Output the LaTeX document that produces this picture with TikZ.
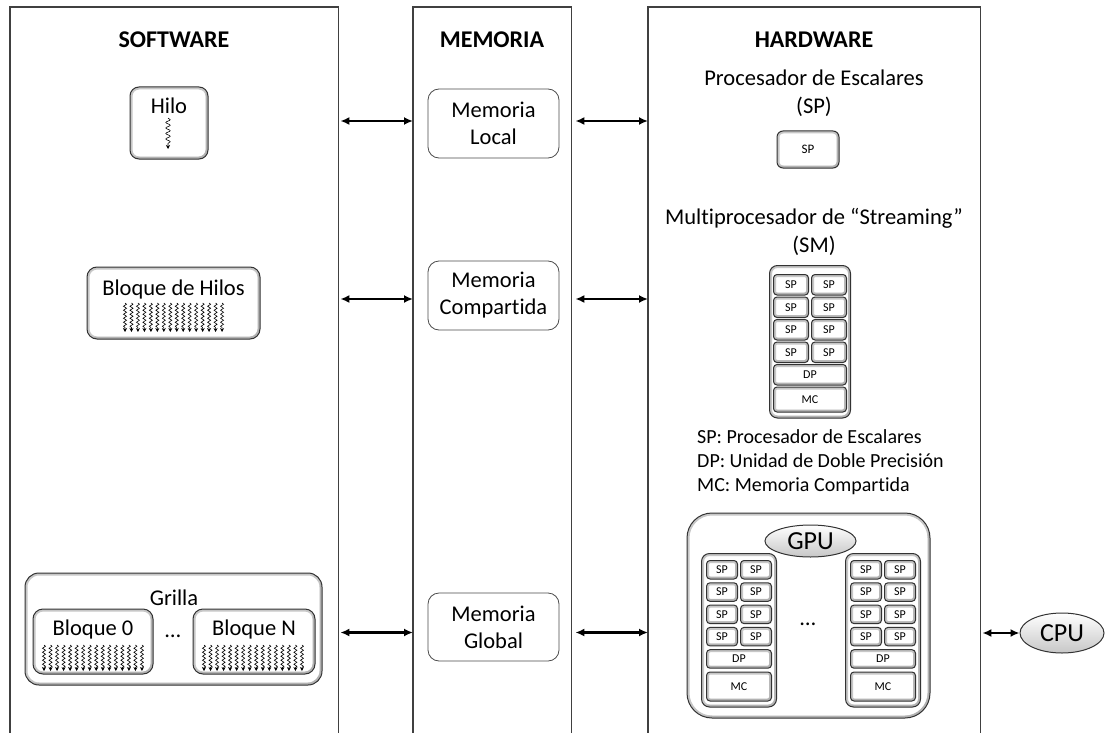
\documentclass[tikz,border=0pt]{standalone}
\usepackage{fontspec}
\setmainfont[Ligatures=NoCommon]{Carlito}
\usetikzlibrary{shapes.geometric,arrows.meta,decorations.pathmorphing,calc}

\tikzset{
  frame/.style={draw=none, inner sep=0, anchor=north west},
  frameline/.style={draw=black!75, line width=1.2},
  ttl/.style={font=\fontsize{24}{28}\selectfont\bfseries},
  lbl/.style={font=\fontsize{22.5}{28}\selectfont, align=center, inner sep=0},
  legend/.style={font=\fontsize{20}{24}\selectfont, anchor=base west, inner sep=0},
  membox/.style={draw=black!70, line width=0.8, rounded corners=11, fill=white,
    align=center, font=\fontsize{22.5}{27}\selectfont, inner sep=0},
  % raised box: white face with a grey inner rim
  bevel/.style={draw=black!80, line width=1, fill=white, inner sep=0, rounded corners=#1,
    path picture={
      \draw[black!22, line width=5, rounded corners=#1]
        (path picture bounding box.south west) rectangle (path picture bounding box.north east);
      \draw[black!30, line width=3, rounded corners=#1]
        ([xshift=-0.6,yshift=0.6]path picture bounding box.south west) --
        ([xshift=-0.6,yshift=0.6]path picture bounding box.south east) --
        ([xshift=-0.6,yshift=0.6]path picture bounding box.north east);
    }},
  bevel/.default=8,
  cell/.style={bevel=3.5, font=\fontsize{12}{13}\selectfont},
  oval/.style={ellipse, draw=black!80, line width=1, inner sep=0, font=\fontsize{26}{30}\selectfont,
    top color=white, middle color=white, bottom color=black!22},
  link/.style={{Latex[length=9,width=8]}-{Latex[length=9,width=8]}, line width=2.2},
  thread/.style={decorate, decoration={snake, amplitude=1.5, segment length=4, post length=3.5},
    line width=0.6, -{Stealth[length=4,width=4]}},
}

% streaming multiprocessor: name, left, top, side pad, top pad,
% cell width, cell height, row step, MC height
\newcommand\smunit[9]{%
  \node[bevel=8, anchor=north west,
    minimum width={2*#6+3+2*#4}, minimum height={#5+5*#8+#9+6}] (#1) at (#2,#3) {};
  \foreach \r in {0,...,3}{
    \node[cell, anchor=north west, minimum width=#6, minimum height=#7]
      (#1-a\r) at ({#2+#4},{#3+#5+\r*#8}) {SP};
    \node[cell, anchor=north west, minimum width=#6, minimum height=#7]
      (#1-b\r) at ({#2+#4+#6+3},{#3+#5+\r*#8}) {SP};
  }
  \node[cell, anchor=north west, minimum width={2*#6+3}, minimum height=#7]
    (#1-dp) at ({#2+#4},{#3+#5+4*#8}) {DP};
  \node[cell, anchor=north west, minimum width={2*#6+3}, minimum height=#9]
    (#1-mc) at ({#2+#4},{#3+#5+5*#8}) {MC};
}

\begin{document}
\begin{tikzpicture}[x=1pt, y=-1pt]
\useasboundingbox (0,0) rectangle (1105,733);
\fill[white] (0,0) rectangle (1105,733);

% the three columns, open at the bottom
\node[frame, minimum width=328, minimum height=726] (sw) at (10,7) {};
\node[frame, minimum width=158, minimum height=726] (mem) at (413,7) {};
\node[frame, minimum width=332, minimum height=726] (hw) at (648,7) {};
\foreach \f in {sw,mem,hw}
  \draw[frameline] (\f.south west) -- (\f.north west) -- (\f.north east) -- (\f.south east);

\node[ttl] (swt) at (174,40) {SOFTWARE};
\node[ttl] (memt) at (492,40) {MEMORIA};
\node[ttl] (hwt) at (814,40) {HARDWARE};

% ---------- software ----------
\node[bevel=9, minimum width=78, minimum height=72] (hilo) at (169,123) {};
\node[lbl] (hilot) at (169,106) {Hilo};
\draw[thread, decoration={amplitude=2.2, segment length=5.5}] (168,118) -- (168,149);

\node[bevel=10, minimum width=173, minimum height=72] (bloque) at (173.5,303) {};
\node[lbl] (bloquet) at (173.5,289) {Bloque de Hilos};
\foreach \i in {0,...,15}
  \draw[thread] ({125+\i*6.47},303) -- ++(0,29);

\node[bevel=14, minimum width=297, minimum height=112] (grilla) at (173.5,629) {};
\node[lbl] (grillat) at (174,598) {Grilla};
\node[bevel=10, minimum width=120, minimum height=65] (b0) at (93,641.5) {};
\node[bevel=10, minimum width=122, minimum height=65] (bn) at (254,641.5) {};
\node[lbl] (b0t) at (93,629) {Bloque 0};
\node[lbl] (bnt) at (254,629) {Bloque N};
\node[lbl] (bdots) at (173,636) {…};
\foreach \i in {0,...,15}{
  \draw[thread] ({44+\i*6.53},645) -- ++(0,26);
  \draw[thread] ({204+\i*6.53},645) -- ++(0,26);
}

% ---------- memory ----------
\node[membox, minimum width=131, minimum height=69] (ml) at (493.5,123.5) {Memoria\\Local};
\node[membox, minimum width=131, minimum height=69] (mc) at (493.5,295.5) {Memoria\\Compartida};
\node[membox, minimum width=131, minimum height=68] (mg) at (493.5,627) {Memoria\\Global};

\foreach \m/\dy in {ml/-2.5, mc/3.5, mg/5.5}{
  \draw[link] ([xshift=2,yshift=-\dy]sw.east |- \m.west) -- ([yshift=-\dy]mem.west |- \m.west);
  \draw[link] ([xshift=4,yshift=-\dy]mem.east |- \m.east) -- ([yshift=-\dy]hw.west |- \m.east);
}

% ---------- hardware ----------
\node[lbl] (spt) at (814,93) {Procesador de Escalares\\(SP)};
\node[cell, bevel=6, minimum width=62, minimum height=37, font=\fontsize{13}{14}\selectfont] (sp) at (808,149.5) {SP};

\node[lbl] (smt) at (814,232) {Multiprocesador de “Streaming”\\(SM)};
\smunit{sm}{769}{265}{4}{9}{35}{20.5}{22.5}{25}

\node[legend] (lg1) at (697,443) {SP: Procesador de Escalares};
\node[legend] (lg2) at (697,467) {DP: Unidad de Doble Precisión};
\node[legend] (lg3) at (697,491) {MC: Memoria Compartida};

\node[bevel=25, minimum width=243, minimum height=205] (gpu) at (808.5,615.5) {};
\node[oval, minimum width=91, minimum height=32] (gput) at (810.5,541) {GPU};
\smunit{gl}{701}{553}{5}{7}{31}{18.5}{22.3}{29}
\smunit{gr}{845}{553}{5}{7}{31}{18.5}{22.3}{29}
\node[lbl] (gdots) at (808,624) {…};

\node[oval, minimum width=84, minimum height=40] (cpu) at (1062,633) {CPU};
\draw[link] ([xshift=2]hw.east |- cpu.west) -- (cpu.west);
\end{tikzpicture}
\end{document}
